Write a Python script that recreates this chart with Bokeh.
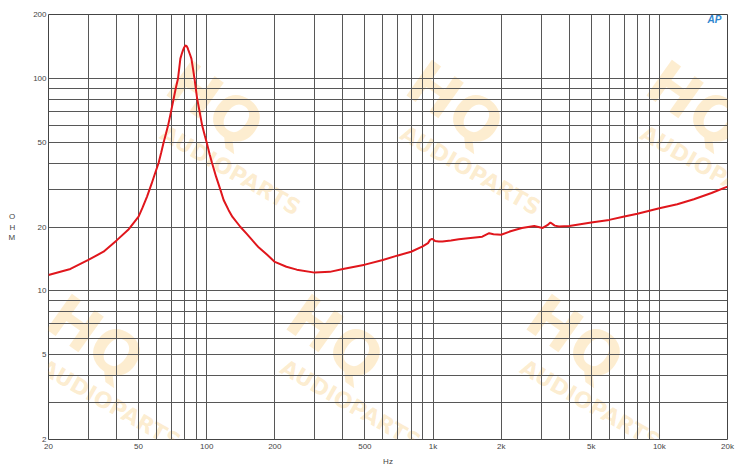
from bokeh.plotting import figure
from bokeh.models import FixedTicker, Label
from bokeh.embed import file_html
from bokeh.resources import INLINE

# ---- data (impedance curve) ----
freq_hz = [20, 25, 30, 35, 40, 45, 50, 52, 54.5, 57,
           59, 61.3, 63, 64.5, 66, 67.5, 69.6, 71.4, 73, 74.7,
           76.5, 77.5, 78.6, 79.5, 80.5, 81.5, 82.3, 83, 84.3, 85.6,
           87, 88.3, 90.8, 93, 95.5, 98, 100, 103, 105.6, 110,
           114.9, 118.8, 125, 130, 141, 150, 160, 170, 185, 200,
           225, 250, 300, 350, 400, 500, 600, 700, 800, 900,
           950, 970, 990, 1020, 1060, 1100, 1200, 1300, 1500, 1650,
           1770, 1850, 2000, 2200, 2470, 2800, 3050, 3200, 3300, 3450,
           3600, 4000, 5000, 6000, 7000, 8000, 10000, 12000, 14200, 17000,
           20000]
ohm = [11.9, 12.7, 14.0, 15.3, 17.3, 19.4, 22.4, 24.6, 27.8, 31.8,
       35.5, 40, 45, 50, 54.8, 60, 70, 80, 90, 100,
       124, 130, 136, 140, 143, 142, 139.5, 136, 130, 124,
       111, 100, 80, 70, 60, 54, 50, 44, 40, 34.5,
       30, 26.8, 24.0, 22.3, 20, 18.6, 17.2, 16.0, 14.8, 13.7,
       13.0, 12.6, 12.2, 12.3, 12.7, 13.3, 14.0, 14.7, 15.3, 16.2,
       16.8, 17.4, 17.6, 17.2, 17.1, 17.1, 17.3, 17.5, 17.8, 18.0,
       18.7, 18.5, 18.4, 19.1, 19.8, 20.2, 19.8, 20.4, 21.0, 20.3,
       20.1, 20.2, 21.0, 21.6, 22.4, 23.1, 24.5, 25.6, 27.0, 28.9,
       31.0]

# ---- axes ----
x_label_vals = [20, 50, 100, 200, 500, 1000, 2000, 5000, 10000, 20000]
x_label_text = ["20", "50", "100", "200", "500", "1k", "2k", "5k", "10k", "20k"]
x_grid_vals = [20, 30, 40, 50, 60, 70, 80, 90,
               100, 200, 300, 400, 500, 600, 700, 800, 900,
               1000, 2000, 3000, 4000, 5000, 6000, 7000, 8000, 9000,
               10000, 20000]
y_label_vals = [2, 5, 10, 20, 50, 100, 200]
y_label_text = ["2", "5", "10", "20", "50", "100", "200"]
y_grid_vals = [2, 3, 4, 5, 6, 7, 8, 9, 10, 20, 30, 40, 50, 60, 70, 80, 90, 100, 200]

x_title = "Hz"
y_title = "O\nH\nM"
watermark_big = "HQ"
watermark_small = "AUDIOPARTS"
logo_text = "AP"

FONT = "Liberation Sans"
GRID = "#575757"
TXT = "#444444"

p = figure(width=743, height=468, x_axis_type="log", y_axis_type="log",
           x_range=(20, 20000), y_range=(2, 200),
           output_backend="svg", toolbar_location=None,
           min_border_left=48, min_border_right=16,
           min_border_top=14, min_border_bottom=27)

p.background_fill_color = "white"
p.border_fill_color = "white"
p.outline_line_color = "#444444"
p.outline_line_width = 1

def overrides(vals, texts):
    d = {}
    for v, t in zip(vals, texts):
        d[float(v)] = t
        d[str(v)] = t
    return d

xt = FixedTicker(ticks=x_label_vals,
                 minor_ticks=[v for v in x_grid_vals if v not in x_label_vals])
yt = FixedTicker(ticks=y_label_vals,
                 minor_ticks=[v for v in y_grid_vals if v not in y_label_vals])
p.xaxis.ticker = xt
p.yaxis.ticker = yt
p.xgrid.ticker = xt
p.ygrid.ticker = yt
p.xaxis.major_label_overrides = overrides(x_label_vals, x_label_text)
p.yaxis.major_label_overrides = overrides(y_label_vals, y_label_text)

for ax in (p.xaxis, p.yaxis):
    ax.axis_line_color = None
    ax.major_tick_line_color = None
    ax.minor_tick_line_color = None
    ax.major_tick_out = 0
    ax.major_tick_in = 0
    ax.minor_tick_out = 0
    ax.minor_tick_in = 0
    ax.major_label_text_font = FONT
    ax.major_label_text_font_size = "8px"
    ax.major_label_text_color = TXT
    ax.axis_label_text_font = FONT
    ax.axis_label_text_font_size = "8px"
    ax.axis_label_text_font_style = "normal"
    ax.axis_label_text_color = TXT
p.xaxis.major_label_standoff = 2
p.yaxis.major_label_standoff = 2

p.xaxis.axis_label = x_title
p.xaxis.axis_label_standoff = 3
p.yaxis.axis_label = y_title
p.yaxis.axis_label_orientation = "horizontal"
p.yaxis.axis_label_standoff = 15

for g in (p.xgrid, p.ygrid):
    g.grid_line_color = GRID
    g.grid_line_width = 1
    g.minor_grid_line_color = GRID
    g.minor_grid_line_width = 1

# ---- watermark (offsets relative to frame) ----
FL, FB = 48, 441  # frame left / bottom in reference pixels
tiles = [(215, 106), (455, 106), (695, 106),
         (95, 340), (335, 340), (575, 340)]
for cx, cy in tiles:
    p.add_layout(Label(x=cx - FL, y=FB - cy, x_units="screen", y_units="screen",
                       text=watermark_big, text_font="DejaVu Sans", text_font_style="bold",
                       text_font_size="60px", text_color="#f6b94a", text_alpha=0.26,
                       text_align="center", text_baseline="middle",
                       angle=-0.62, level="image"))
    p.add_layout(Label(x=cx + 15 - FL, y=FB - (cy + 66), x_units="screen", y_units="screen",
                       text=watermark_small, text_font="DejaVu Sans", text_font_style="bold",
                       text_font_size="22px", text_color="#f6b94a", text_alpha=0.26,
                       text_align="center", text_baseline="middle",
                       angle=-0.52, level="image"))

# ---- curve ----
p.line(freq_hz, ohm, line_color="#e0161c", line_width=2)

# ---- logo ----
p.add_layout(Label(x=714 - FL, y=FB - 21, x_units="screen", y_units="screen",
                   text=logo_text, text_font=FONT, text_font_size="10px",
                   text_font_style="bold italic", text_color="#2f86cf",
                   text_align="center", text_baseline="middle"))

open("out.html", "w").write(file_html(p, INLINE))
